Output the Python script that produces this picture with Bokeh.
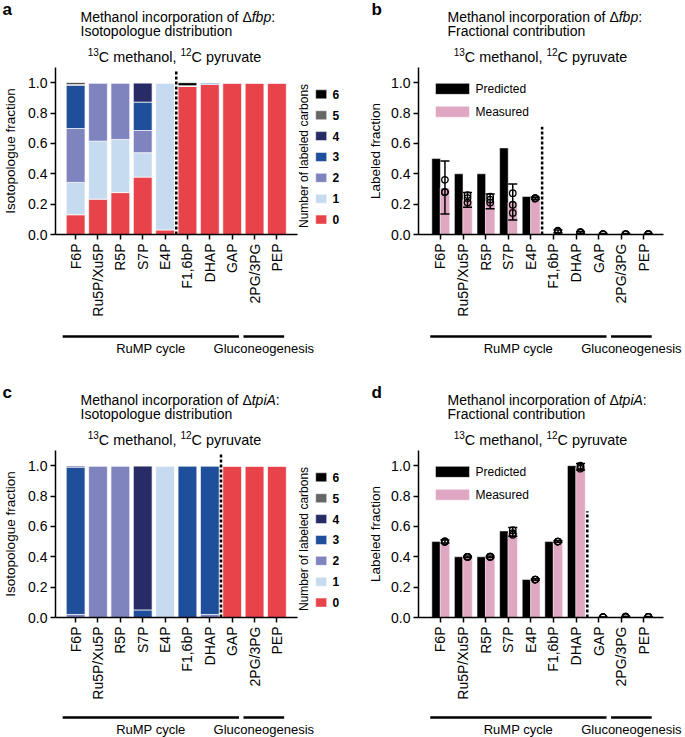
import math
from bokeh.plotting import figure
from bokeh.models import Range1d, FixedTicker, PrintfTickFormatter
from bokeh.layouts import column, row
from bokeh.embed import file_html
from bokeh.resources import INLINE
from bokeh.core.properties import value

FONT = "Liberation Sans"

# ---------------- data ----------------
metabolites = ["F6P", "Ru5P/Xu5P", "R5P", "S7P", "E4P", "F1,6bP", "DHAP", "GAP", "2PG/3PG", "PEP"]
groups = ["RuMP cycle", "Gluconeogenesis"]
group_first = ["F6P", "2PG/3PG"]
group_last = ["GAP", "PEP"]
carbon_labels = ["0", "1", "2", "3", "4", "5", "6"]
iso_colors = ["#E8434A", "#C6DBEF", "#7F83BE", "#1F4E9B", "#272C66", "#666666", "#000000"]
pred_color = "#000000"
meas_color = "#E0A7C2"

# delta fbp isotopologue fractions (M+0 ... M+6)
fbp_m0 = [0.13, 0.233, 0.276, 0.378, 0.03, 0.975, 0.99, 1.0, 1.0, 1.0]
fbp_m1 = [0.213, 0.382, 0.35, 0.161, 0.97, 0.0, 0.0, 0.0, 0.0, 0.0]
fbp_m2 = [0.355, 0.385, 0.374, 0.146, 0.0, 0.005, 0.0, 0.0, 0.0, 0.0]
fbp_m3 = [0.285, 0.0, 0.0, 0.187, 0.0, 0.0, 0.01, 0.0, 0.0, 0.0]
fbp_m4 = [0.007, 0.0, 0.0, 0.128, 0.0, 0.0, 0.0, 0.0, 0.0, 0.0]
fbp_m5 = [0.0, 0.0, 0.0, 0.0, 0.0, 0.0, 0.0, 0.0, 0.0, 0.0]
fbp_m6 = [0.01, 0.0, 0.0, 0.0, 0.0, 0.02, 0.0, 0.0, 0.0, 0.0]

# delta tpiA isotopologue fractions
tpi_m0 = [0.0, 0.0, 0.0, 0.0, 0.0, 0.0, 0.0, 1.0, 1.0, 1.0]
tpi_m1 = [0.0, 0.0, 0.0, 0.0, 1.0, 0.0, 0.0, 0.0, 0.0, 0.0]
tpi_m2 = [0.02, 1.0, 1.0, 0.0, 0.0, 0.0, 0.02, 0.0, 0.0, 0.0]
tpi_m3 = [0.97, 0.0, 0.0, 0.05, 0.0, 1.0, 0.98, 0.0, 0.0, 0.0]
tpi_m4 = [0.01, 0.0, 0.0, 0.95, 0.0, 0.0, 0.0, 0.0, 0.0, 0.0]
tpi_m5 = [0.0, 0.0, 0.0, 0.0, 0.0, 0.0, 0.0, 0.0, 0.0, 0.0]
tpi_m6 = [0.0, 0.0, 0.0, 0.0, 0.0, 0.0, 0.0, 0.0, 0.0, 0.0]

# delta fbp fractional contribution
fbp_pred = [0.5, 0.4, 0.4, 0.57, 0.25, 0.0, 0.0, 0.0, 0.0, 0.0]
fbp_meas = [0.307, 0.228, 0.22, 0.21, 0.24, 0.022, 0.014, 0.003, 0.003, 0.003]
fbp_lo = [0.135, 0.179, 0.17, 0.096, 0.232, 0.012, 0.008, 0.0, 0.0, 0.0]
fbp_hi = [0.484, 0.277, 0.266, 0.333, 0.246, 0.03, 0.02, 0.006, 0.006, 0.006]
fbp_rep1 = [0.36, 0.26, 0.25, 0.272, 0.235, 0.02, 0.012, 0.003, 0.003, 0.003]
fbp_rep2 = [0.28, 0.24, 0.23, 0.196, 0.24, 0.025, 0.015, 0.003, 0.003, 0.003]
fbp_rep3 = [0.279, 0.21, 0.21, 0.142, 0.24, 0.02, 0.016, 0.003, 0.003, 0.003]

# delta tpiA fractional contribution
tpi_pred = [0.5, 0.4, 0.4, 0.57, 0.25, 0.5, 1.0, 0.0, 0.0, 0.0]
tpi_meas = [0.5, 0.4, 0.4, 0.557, 0.25, 0.5, 0.99, 0.002, 0.005, 0.004]
tpi_lo = [0.49, 0.395, 0.395, 0.535, 0.245, 0.495, 0.972, 0.0, 0.002, 0.002]
tpi_hi = [0.51, 0.405, 0.405, 0.593, 0.255, 0.505, 1.015, 0.004, 0.008, 0.006]
tpi_rep1 = [0.497, 0.4, 0.4, 0.575, 0.25, 0.5, 1.0, 0.002, 0.005, 0.004]
tpi_rep2 = [0.5, 0.4, 0.4, 0.555, 0.25, 0.5, 0.99, 0.002, 0.005, 0.004]
tpi_rep3 = [0.503, 0.4, 0.4, 0.545, 0.25, 0.5, 0.98, 0.002, 0.005, 0.004]

# ---------------- geometry ----------------
PX = 22.6          # px per category
Y_TOP = 1.1        # top of value axis
TOP_H = 67         # heading strip height
FRAME_H = 168      # plot frame height (0 .. 1.1)
PY = FRAME_H / Y_TOP
Y0 = TOP_H + FRAME_H   # page y of value 0 (top row)
MAIN_H = FRAME_H + 84
BOT_H_1 = 64
BOT_H_2 = 35
LEFT_W, RIGHT_W = 340, 345
MID = 0.3465       # em offset between alphabetic baseline and middle

AW = {' ': 278, ',': 278, ':': 278, '.': 278, '/': 278, 'A': 667, 'C': 722, 'D': 722, 'F': 611,
      'I': 278, 'M': 833, 'P': 667, 'R': 722, 'X': 667, '\u0394': 668, 'a': 556, 'b': 556, 'c': 500,
      'd': 556, 'e': 556, 'f': 278, 'g': 556, 'h': 556, 'i': 222, 'l': 222, 'm': 833, 'n': 556,
      'o': 556, 'p': 556, 'r': 333, 's': 500, 't': 278, 'u': 556, 'v': 500, 'y': 500}


def tw(s, size):
    return sum(AW.get(ch, 556) for ch in s) / 1000.0 * size


def ydat(py):
    return (Y0 - py) / PY


def strip(width, height, x_left, x_range=None, border_left=0):
    xr = x_range if x_range is not None else Range1d(x_left, x_left + width)
    q = figure(width=width, height=height, x_range=xr, y_range=Range1d(height, 0),
               x_axis_location=None, y_axis_location=None, toolbar_location=None,
               output_backend="svg", title=None, min_border_left=border_left,
               min_border_right=0, min_border_top=0, min_border_bottom=0,
               outline_line_color=None, border_fill_color="white")
    q.xgrid.grid_line_color = None
    q.ygrid.grid_line_color = None
    return q


def rich(q, x_start, baseline, pieces):
    x = x_start
    for txt, size, style, dy in pieces:
        q.text(x=[x], y=[baseline - dy - MID * size], text=[txt], text_font=value(FONT),
               text_font_size=f"{size}px", text_font_style=style, text_align="left",
               text_baseline="middle", text_color="black")
        x += tw(txt, size)


def heading(left, strain, line2, letter):
    width = LEFT_W if left else RIGHT_W
    x_left = 0 if left else LEFT_W
    q = strip(width, TOP_H, x_left)
    x0 = 80 if left else 447
    rich(q, x0, 21, [("Methanol incorporation of \u0394", 14, "normal", 0),
                     (strain, 14, "italic", 0), (":", 14, "normal", 0)])
    rich(q, x0, 35.5, [(line2, 14, "normal", 0)])
    pieces = [("13", 10, "normal", 6), ("C methanol, ", 14.4, "normal", 0),
              ("12", 10, "normal", 6), ("C pyruvate", 14.4, "normal", 0)]
    total = sum(tw(t, s) for t, s, _, _ in pieces)
    center = 174 if left else 540
    rich(q, center - total / 2, 61, pieces)
    lx = 2 if left else 371
    rich(q, lx, 14.5, [(letter, 17, "bold", 0)])
    return q


def make_main(left, ylabel):
    if left:
        width, border, xs, xl, axis_end, lstand = LEFT_W, 52, -0.9, 52, 9.9, 7
    else:
        width, border, xs, xl, axis_end, lstand = RIGHT_W, 78, -0.97, 418, 9.87, 5
    xe = xs + (width - border) / PX
    p = figure(width=width, height=MAIN_H, x_range=Range1d(xs, xe), y_range=Range1d(0, Y_TOP),
               toolbar_location=None, output_backend="svg", title=None,
               min_border_left=border, min_border_right=0, min_border_top=0,
               min_border_bottom=MAIN_H - FRAME_H, outline_line_color=None,
               background_fill_color="white", border_fill_color="white")
    p.xgrid.grid_line_color = None
    p.ygrid.grid_line_color = None
    for ax in (p.xaxis[0], p.yaxis[0]):
        ax.axis_line_width = 1.5
        ax.axis_line_color = "black"
        ax.major_tick_line_width = 1.5
        ax.major_tick_out = 5
        ax.major_tick_in = 0
        ax.minor_tick_out = 0
        ax.minor_tick_in = 0
        ax.major_label_text_font = FONT
        ax.major_label_text_font_size = "14px"
        ax.major_label_text_color = "black"
    p.yaxis.ticker = FixedTicker(ticks=[0.0, 0.2, 0.4, 0.6, 0.8, 1.0])
    p.yaxis.formatter = PrintfTickFormatter(format="%.1f")
    p.yaxis.major_label_standoff = 3
    p.yaxis.axis_label = ylabel
    p.yaxis.axis_label_text_font = FONT
    p.yaxis.axis_label_text_font_style = "normal"
    p.yaxis.axis_label_text_font_size = "13.5px"
    p.yaxis.axis_label_text_color = "black"
    p.yaxis.axis_label_standoff = lstand
    p.xaxis.ticker = FixedTicker(ticks=list(range(len(metabolites))))
    p.xaxis.major_label_overrides = {i: m for i, m in enumerate(metabolites)}
    p.xaxis.major_label_orientation = math.pi / 2
    p.xaxis.major_label_standoff = 4
    p.xaxis.bounds = (xs, axis_end)

    def xconv(px):
        return xs + (px - xl) / PX
    return p, xconv


def separator(p, after, top):
    xsep = metabolites.index(after) - 0.5
    p.segment(x0=[xsep], y0=[0], x1=[xsep], y1=[top], line_color="black", line_width=2.5,
              line_dash="3 2")


def iso_panel(stacks, sep_after):
    p, xconv = make_main(True, "Isotopologue fraction")
    data = {"x": list(range(len(metabolites)))}
    keys = []
    for k, vals in enumerate(stacks):
        data["m%d" % k] = vals
        keys.append("m%d" % k)
    p.vbar_stack(keys, x="x", width=0.84, color=iso_colors, source=data,
                 line_color="white", line_width=0.7)
    separator(p, sep_after, 1.08)
    ys = [220 - 21 * k for k in range(len(carbon_labels))]
    p.rect(x=[xconv(320.5)] * len(ys), y=[ydat(v) for v in ys], width=11, height=9,
           width_units="screen", height_units="screen", fill_color=iso_colors,
           line_color="white", line_width=0.5)
    p.text(x=[xconv(332)] * len(ys), y=[ydat(v) for v in ys], text=carbon_labels,
           text_font=value(FONT), text_font_size="12px", text_font_style="bold",
           text_align="left", text_baseline="middle", text_color="black")
    p.text(x=[xconv(303)], y=[ydat(156)], text=["Number of labeled carbons"], angle=math.pi / 2,
           text_font=value(FONT), text_font_size="12px", text_align="center",
           text_baseline="middle", text_color="black")
    return p


def frac_panel(pred, meas, lo, hi, reps, sep_after, sep_top):
    p, xconv = make_main(False, "Labeled fraction")
    xi = list(range(len(metabolites)))
    xp = [i - 0.19 for i in xi]
    xm = [i + 0.2 for i in xi]
    p.vbar(x=xp, top=pred, width=0.38, fill_color=pred_color, line_color="white", line_width=0.5)
    p.vbar(x=xm, top=meas, width=0.42, fill_color=meas_color, line_color="white", line_width=0.5)
    p.segment(x0=xm, y0=lo, x1=xm, y1=hi, line_color="black", line_width=1.5)
    p.segment(x0=[v - 0.2 for v in xm], y0=hi, x1=[v + 0.2 for v in xm], y1=hi,
              line_color="black", line_width=1.5)
    p.segment(x0=[v - 0.2 for v in xm], y0=lo, x1=[v + 0.2 for v in xm], y1=lo,
              line_color="black", line_width=1.5)
    for rep in reps:
        p.scatter(x=xm, y=rep, marker="circle", size=6.5, line_color="black", line_width=1.3,
                  fill_color=None)
    separator(p, sep_after, sep_top)
    p.rect(x=[xconv(452)] * 2, y=[ydat(88.5), ydat(111.5)], width=34, height=11,
           width_units="screen", height_units="screen", fill_color=[pred_color, meas_color],
           line_color="white", line_width=0.5)
    p.text(x=[xconv(475)] * 2, y=[ydat(88.5), ydat(111.5)], text=["Predicted", "Measured"],
           text_font=value(FONT), text_font_size="12px", text_align="left",
           text_baseline="middle", text_color="black")
    return p


def bottom(main, height, line_y, text_y):
    q = strip(main.width, height, 0, x_range=main.x_range, border_left=main.min_border_left)
    starts = [metabolites.index(g) - 0.45 for g in group_first]
    ends = [metabolites.index(g) + 0.35 for g in group_last]
    q.segment(x0=starts, y0=[line_y] * 2, x1=ends, y1=[line_y] * 2, line_color="black",
              line_width=2.5)
    q.text(x=[(s + e) / 2 for s, e in zip(starts, ends)], y=[text_y] * 2, text=groups,
           text_font=value(FONT), text_font_size="13px", text_align="center",
           text_baseline="middle", text_color="black")
    return q


pa = iso_panel([fbp_m0, fbp_m1, fbp_m2, fbp_m3, fbp_m4, fbp_m5, fbp_m6], "F1,6bP")
pb = frac_panel(fbp_pred, fbp_meas, fbp_lo, fbp_hi, [fbp_rep1, fbp_rep2, fbp_rep3], "F1,6bP", 0.71)
pc = iso_panel([tpi_m0, tpi_m1, tpi_m2, tpi_m3, tpi_m4, tpi_m5, tpi_m6], "GAP")
pd = frac_panel(tpi_pred, tpi_meas, tpi_lo, tpi_hi, [tpi_rep1, tpi_rep2, tpi_rep3], "GAP", 0.70)

layout = column(
    row(heading(True, "fbp", "Isotopologue distribution", "a"),
        heading(False, "fbp", "Fractional contribution", "b")),
    row(pa, pb),
    row(bottom(pa, BOT_H_1, 17, 29), bottom(pb, BOT_H_1, 17, 29)),
    row(heading(True, "tpiA", "Isotopologue distribution", "c"),
        heading(False, "tpiA", "Fractional contribution", "d")),
    row(pc, pd),
    row(bottom(pc, BOT_H_2, 15, 27), bottom(pd, BOT_H_2, 15, 27)),
)

open("out.html", "w").write(file_html(layout, INLINE))
